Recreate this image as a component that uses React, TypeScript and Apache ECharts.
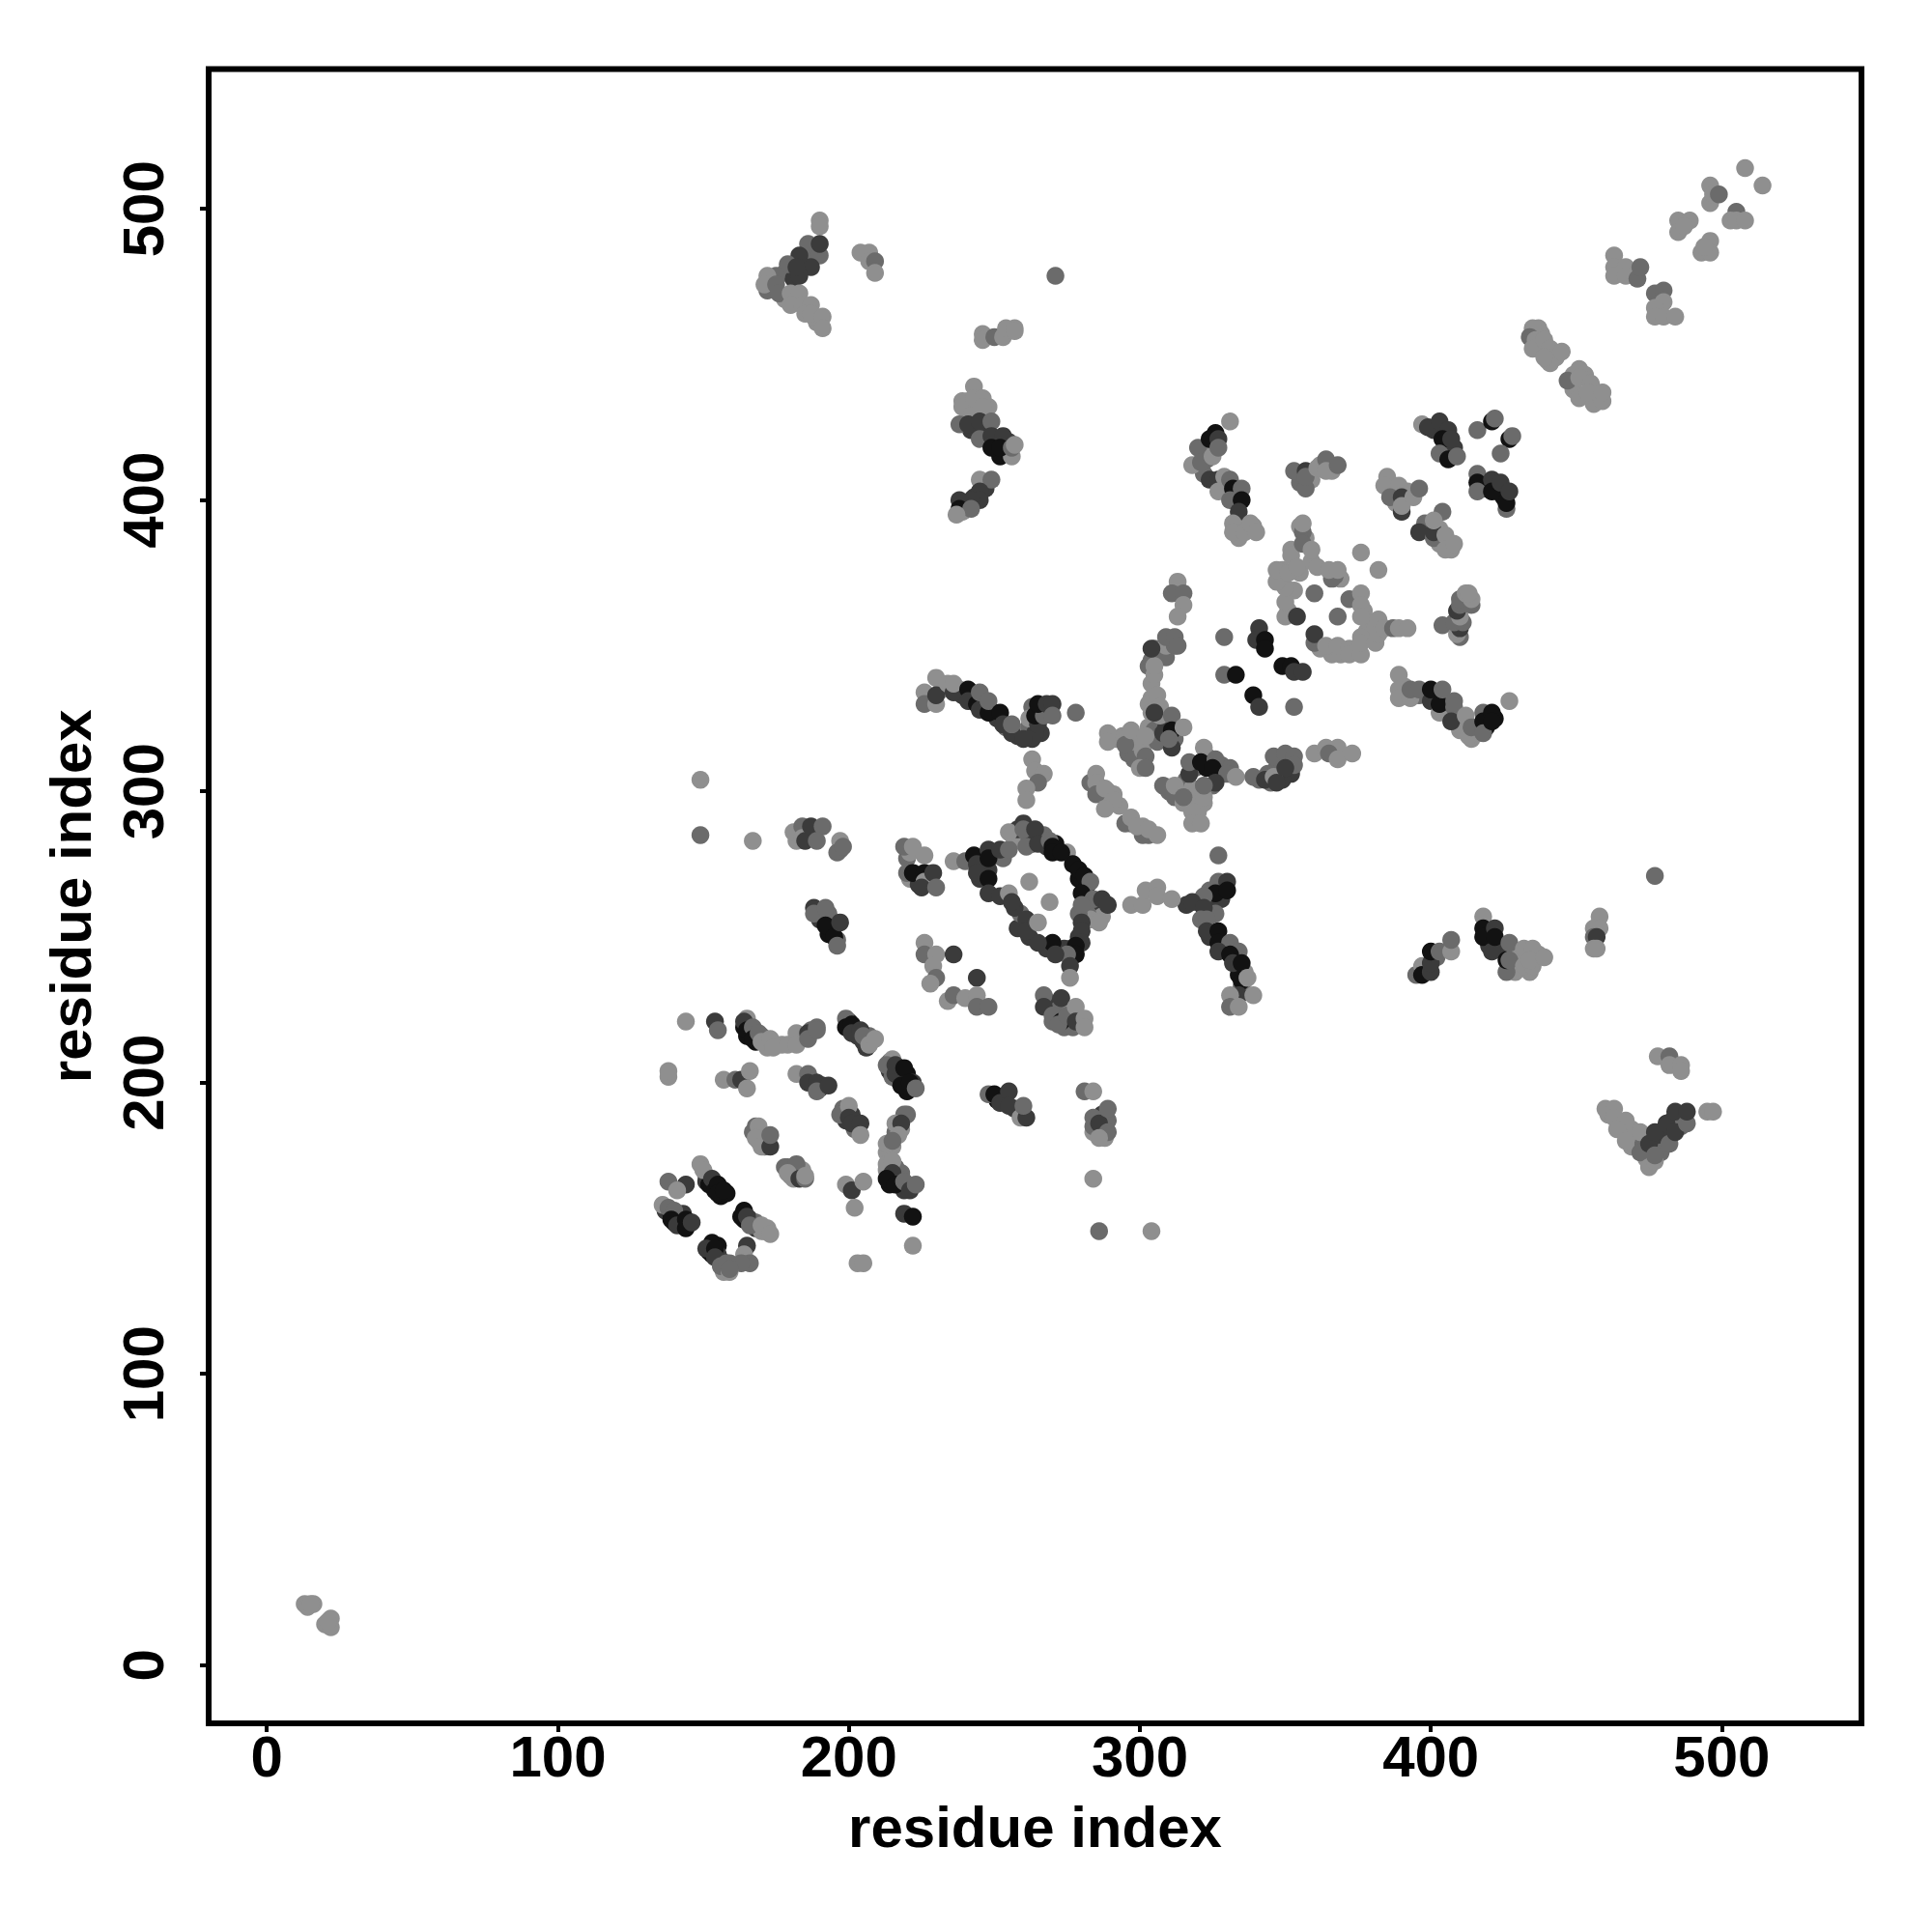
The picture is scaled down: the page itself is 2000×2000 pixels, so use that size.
import React, { useEffect, useRef } from "react";
import * as echarts from "echarts";

// each contact: [residue x, residue y, strength level 0..3]
const axisTicks = [0, 100, 200, 300, 400, 500];
const axisTitle = "residue index";
const levelGreys = ["#8f8f8f", "#6b6b6b", "#3b3b3b", "#121212"];

const denseLower = [
  [137,156,2],[139,155,3],[141,154,3],[142,152,3],[140,152,3],[143,155,2],
  [151,168,1],[151,166,2],[152,165,3],[153,165,3],[156,161,3],[158,162,3],
  [164,153,3],[166,153,2],[168,150,2],[168,152,1],[170,149,0],[172,150,0],
  [152,142,3],[155,144,3],[153,141,3],[155,141,2],[156,139,2],[158,137,1],[157,135,0],[159,138,1],
  [167,183,1],[169,180,0],[171,181,0],[172,180,2],[171,178,1],
  [178,171,1],[180,168,0],[182,169,2],[184,170,0],[181,167,0],
  [200,221,3],[202,218,3],[203,216,2],[205,214,2],[207,216,1],
  [214,207,1],[214,204,2],[217,204,3],[217,201,3],[219,199,3],[220,203,3],[222,200,2],[220,197,3],[215,202,1],
  [198,191,1],[199,190,2],[199,187,2],[201,189,2],[202,184,1],
  [213,170,0],[214,165,3],[217,167,2],[219,163,2],[214,168,2],[218,169,1],[216,171,1],[213,176,0],[219,164,2],
  [218,184,0],[216,183,1],[215,178,0],[220,189,1],
  [164,219,3],[165,216,3],[168,217,2],[168,214,3],[170,216,1],[172,212,0],[175,213,0],[177,213,0],
  [184,216,0],[187,218,1],[187,201,2],[191,199,2],[190,198,2],
  [253,195,2],[251,194,3],[257,191,2],
  [285,184,1],[287,189,2],[288,185,1],[284,183,0],[288,181,0],
];

const denseMiddle = [
  [228,331,0],[232,335,0],[238,335,0],[239,333,2],[243,333,3],[247,329,2],[250,327,3],[251,325,2],[254,322,1],[258,319,2],[261,321,0],[262,322,1],[266,320,2],[264,320,2],[266,328,3],[263,329,1],[268,328,2],
  [292,318,0],[294,319,0],[296,313,1],[299,316,0],[298,311,1],[301,314,0],[303,322,0],[305,321,1],[306,317,1],[307,324,1],[309,322,2],[312,318,1],[304,332,0],[307,326,0],[303,330,0],[306,348,1],[305,346,1],[311,352,1],[304,337,0],[303,343,1],
  [319,308,1],[323,312,1],[323,308,3],[328,309,1],[328,306,2],[331,308,1],[316,304,1],[310,300,1],[312,298,1],[315,296,0],[318,301,0],[322,296,0],[320,293,0],[325,302,1],[317,306,2],
  [341,304,1],[345,303,1],[344,306,1],[347,308,1],[348,310,1],[352,311,1],[349,310,1],[352,306,2],
  [283,303,1],[287,299,0],[289,300,0],[293,295,0],[297,289,1],[301,288,0],[303,285,1],[291,299,0],
  [242,276,2],[246,274,2],[245,270,2],[248,273,2],[250,278,2],[253,277,1],[257,283,0],[258,287,2],[262,284,1],[263,282,2],[267,285,1],[268,281,2],[271,282,3],[275,279,0],
  [277,275,3],[279,270,3],[282,268,3],[281,263,1],[283,260,1],[285,262,2],[286,259,2],[287,257,0],[282,258,1],[283,256,0],[279,258,1],
  [279,250,2],[276,246,1],[274,246,2],[268,246,2],[262,250,2],[258,253,2],[259,258,1],[257,260,2],
  [268,228,2],[270,226,2],[270,221,1],[272,225,1],[274,219,1],[276,224,0],[277,219,1],
  [324,266,1],[328,263,2],[325,263,2],[320,262,3],[316,261,2],[326,258,1],[324,250,2],[329,246,2],[333,243,2],[336,238,0],[334,237,3],[335,233,1],
  [186,284,2],[188,286,1],[182,283,0],[197,280,1],
  [190,256,2],[193,258,1],[194,253,2],[196,249,1],[193,251,3],
  [220,277,1],[221,270,0],[224,268,2],[227,269,2],[221,279,0],
];

const denseUpper = [
  [322,416,1],[326,423,3],[324,417,0],[322,409,1],[323,414,1],[329,405,1],[333,402,2],[334,393,1],[336,391,0],[339,391,0],[334,387,0],
  [241,434,0],[241,431,0],[244,430,0],[242,424,2],[247,424,2],[251,419,2],[255,420,2],[248,432,0],[252,415,3],[256,415,0],
  [240,398,3],[243,401,2],[247,404,2],[239,396,0],
  [178,478,1],[181,476,2],[185,482,2],[188,485,1],[174,475,0],[172,472,1],[182,469,0],[186,465,0],[189,461,0],[188,463,0],[178,469,0],
  [438,457,0],[437,452,0],[443,449,0],[440,448,0],[437,459,0],[449,438,0],[453,443,0],[453,436,0],[457,436,0],[449,443,0],
  [398,238,2],[402,243,1],
  [420,247,2],[424,246,2],[428,240,2],[429,238,0],[430,243,0],[437,244,0],[434,238,0],
  [461,189,0],[465,186,0],[469,184,0],[469,178,0],[473,179,1],[474,174,0],[479,181,2],[481,183,2],[483,187,2],[486,185,1],[475,172,0],[479,176,1],
  [391,336,0],[396,333,1],[402,333,2],[406,327,2],[410,325,1],[410,321,0],[416,320,1],[414,318,0],[419,322,3],[422,325,3],
  [352,383,0],[353,369,0],[349,376,0],[355,375,0],[357,387,0],[355,391,0],[362,349,0],[366,347,0],[369,347,0],[374,349,0],[378,355,0],[379,358,0],[381,356,0],[377,362,0],[369,373,0],[367,374,1],[359,379,0],[351,362,0],
  [387,403,0],[388,399,0],[392,403,0],[403,390,0],[403,385,0],[398,392,1],[407,383,0],
  [355,406,1],[359,407,0],[362,412,0],[366,410,0],
  [401,424,2],[405,418,3],[408,418,2],[418,405,1],[423,403,3],[425,401,3],[419,404,3],
];

const cornerPairs = [[13,21,0],[16,21,0],[14,20,0],[15,21,0],[20,14,0],[22,16,0],[22,13,0],[21,15,0]];

const strandLower = [
  [138,202,0],[138,204,0],[144,221,0],[154,221,2],[155,218,1],
  [165,222,0],[164,221,2],[165,218,3],[167,219,1],[167,215,3],[169,217,1],[170,214,0],[173,215,0],[174,212,0],
  [179,213,0],[182,217,0],[182,213,0],[186,217,2],[186,215,1],[189,219,1],[189,218,1],
  [199,222,1],[199,219,3],[201,220,3],[201,217,2],[204,218,2],[206,212,2],[205,216,1],[207,213,0],[209,215,0],
  [215,208,0],[213,206,1],[218,201,3],[216,203,2],[216,206,2],[219,205,3],[218,199,3],[221,200,3],[223,198,1],
  [157,201,0],[161,201,1],[163,201,2],[166,204,0],[165,198,0],
  [182,203,0],[186,203,1],[186,200,2],[189,200,2],[189,197,1],[193,199,2],
  [197,189,1],[200,192,0],[200,188,2],[201,186,2],[204,186,2],[204,182,0],
  [219,189,1],[216,186,0],[218,186,2],[217,182,0],[213,179,0],[215,180,1],
  [213,172,0],[215,173,0],[215,169,2],[213,167,3],[216,165,3],[219,166,1],[221,163,2],[223,165,1],
  [219,155,2],[222,154,3],[222,144,0],
  [199,165,0],[201,163,2],[205,166,0],[202,157,0],[203,138,0],[205,138,0],
  [168,185,1],[169,185,0],[168,181,0],[170,178,0],[173,178,2],[173,182,1],
  [179,171,1],[182,172,1],[179,169,0],[183,167,2],[185,167,1],[185,168,0],
  [149,172,0],[150,170,0],[153,167,2],[154,163,3],[155,165,3],[155,162,3],[157,163,3],
  [138,166,1],[144,165,2],[141,163,0],[136,158,0],[138,157,1],[140,156,1],[139,153,3],[141,151,2],[144,150,3],[144,153,3],[146,152,2],
  [164,156,3],[163,154,3],[165,154,2],[166,151,1],[171,149,0],[170,151,0],[173,148,0],
  [165,144,2],[164,141,0],[166,138,1],[163,138,1],
  [153,145,3],[151,143,2],[154,143,3],[154,140,2],[156,137,1],[158,138,1],[159,135,0],[159,136,1],
  [248,196,1],[250,196,3],[252,193,2],[255,197,2],[255,192,2],[259,188,0],[261,188,2],[260,192,1],
  [281,197,1],[284,197,0],[284,188,1],[289,187,1],[284,185,1],[286,186,2],[289,191,1],[289,183,1],[286,181,0],
  [284,167,0],[286,149,1],[304,149,0],
];

const chainUpper = [
  [226,334,0],[230,339,0],[226,330,1],[230,330,0],[230,333,2],[234,337,0],[236,334,2],[236,337,0],
  [241,335,3],[241,331,2],[244,330,3],[245,328,2],[245,334,1],[248,327,3],[248,331,1],[252,327,3],[253,323,2],[256,320,2],[256,323,1],[262,325,0],
  [263,318,2],[260,318,2],[265,323,2],[264,326,3],[267,326,1],[265,330,3],[268,330,2],[270,330,2],[270,326,1],
  [278,327,1],[263,311,0],[264,307,0],[267,306,0],[265,303,1],[261,301,0],[261,297,0],
  [285,306,0],[285,303,0],[285,299,1],[288,301,0],[291,297,0],[288,294,0],
  [295,289,1],[297,291,0],[301,285,1],[299,288,0],[303,287,0],[306,285,0],
  [289,320,0],[289,317,0],[295,316,1],[297,321,0],[302,319,0],[304,327,0],[306,333,0],[307,329,0],[302,312,1],[300,308,0],[302,308,1],[305,327,2],[308,320,2],[311,326,1],[311,321,3],[315,322,0],[311,315,2],[310,318,1],
  [305,340,0],[304,345,1],[305,349,1],[309,346,1],[309,350,0],[312,350,1],[305,343,0],
  [313,372,0],[311,368,1],[315,368,1],[315,364,0],[313,360,0],[304,349,2],[309,353,1],[312,353,1],[313,350,1],
  [317,310,1],[322,315,0],[321,310,3],[326,311,1],[325,308,3],[330,306,1],[333,305,0],[326,303,2],
  [308,302,1],[312,302,0],[318,298,0],[322,298,0],[318,293,0],[318,289,0],[321,289,0],[322,302,1],[315,298,1],
  [339,305,1],[343,304,2],[349,304,2],[346,305,0],[346,312,1],[350,313,1],[353,312,1],[353,309,1],[350,308,2],[347,303,2],
  [360,313,0],[364,315,0],[368,315,0],[365,313,1],[368,311,0],[373,313,0],
];

const loopCentre = [
  [236,276,0],[240,276,1],[243,278,3],[244,275,2],[244,272,2],[248,270,3],[248,280,2],[248,277,3],[252,280,2],[255,280,1],[255,286,0],
  [260,289,2],[260,287,1],[264,287,2],[261,281,1],[265,282,2],[269,283,1],[270,281,3],[270,279,3],[273,279,3],
  [279,273,3],[281,271,3],[283,269,1],[280,265,3],[284,263,1],[280,261,1],[287,263,2],[289,261,2],[286,255,0],
  [280,255,2],[280,252,2],[280,248,2],[278,247,3],[278,244,3],[275,244,1],[276,240,2],[276,236,0],
  [270,248,3],[271,244,2],[265,248,2],[261,256,2],[261,252,2],[265,255,0],[248,265,2],[252,264,2],[255,265,0],[256,262,2],
  [262,269,0],[269,262,0],
  [297,261,0],[301,261,0],[302,266,0],[306,267,0],[306,264,0],[311,263,0],
  [327,278,1],[327,269,1],[330,269,2],[326,265,3],[330,266,3],[322,264,1],[318,262,2],[322,260,2],[321,256,1],[323,256,1],[323,252,2],
  [327,252,3],[327,248,3],[331,248,1],[327,245,2],[334,245,1],[331,244,3],[332,241,2],[335,241,3],[335,235,3],[337,236,0],[334,230,2],[339,230,0],[331,230,0],[331,226,1],[334,226,0],
  [219,281,1],[222,281,0],[226,278,0],[220,272,1],[222,272,3],[226,272,3],[226,269,0],[229,272,2],[225,267,2],[230,267,1],
  [226,248,0],[226,244,1],[230,244,0],[229,240,0],[230,236,1],[228,234,0],[236,244,2],[244,236,2],
  [234,228,0],[236,230,1],[240,229,0],[244,230,0],[244,226,1],[248,226,1],
  [267,230,1],[267,226,2],[273,229,2],[270,223,1],[273,221,3],[272,220,1],[275,223,1],[278,226,0],[278,221,2],[281,222,0],[281,219,0],
];

const hairpinLeft = [
  [149,304,0],[149,285,1],[167,283,0],
  [181,286,0],[184,288,1],[184,284,0],[185,283,2],[187,288,2],[191,288,1],[189,283,1],
  [197,283,0],[196,279,1],[198,281,1],
  [188,260,2],[188,258,1],[192,260,1],[192,254,3],[195,250,3],[196,247,1],[197,255,2],
];

const upperBlocks = [
  [318,412,0],[320,418,1],[321,413,1],[325,415,0],[324,421,3],[327,421,2],[327,418,1],[324,407,2],[327,407,2],[329,408,0],[327,403,0],
  [331,427,0],[331,407,1],[332,404,3],[335,404,1],[331,400,1],[335,400,3],[334,396,2],[332,392,0],[332,389,0],[336,389,0],[338,392,0],[340,389,0],
  [357,404,1],[353,410,1],[357,410,2],[357,408,1],[361,411,0],[364,414,1],[364,410,0],[368,412,1],
  [397,426,0],[399,425,2],[403,427,2],[406,424,2],[404,421,3],[407,421,2],[403,416,1],[406,414,3],[409,415,1],
  [416,424,1],[421,427,3],[422,428,1],[427,421,3],[428,422,1],[424,416,1],
  [416,409,1],[416,406,3],[416,403,1],[421,407,2],[421,403,3],[424,406,2],[426,397,1],[426,399,3],[427,403,2],
  [385,408,0],[384,405,0],[389,405,0],[386,401,1],[390,401,2],[390,396,2],[390,398,0],[394,401,0],[396,404,1],
  [404,396,1],[396,389,2],[401,387,1],[401,389,2],[401,393,0],[405,388,0],[405,383,0],[408,385,0],
];

const starCentre = [
  [341,356,2],[340,352,2],[343,352,3],[343,349,3],[329,353,1],
  [329,340,1],[333,340,3],[339,333,3],[341,329,2],[353,329,1],
  [349,343,3],[352,343,3],[353,341,2],[356,341,2],
  [350,360,0],[350,365,0],[350,370,0],[347,372,0],[347,376,0],[351,375,0],[352,381,0],[354,377,0],[356,389,1],[356,385,1],[356,392,0],[359,383,0],[361,377,0],
  [354,360,2],[360,368,1],[368,360,1],
  [366,373,1],[365,376,0],[368,376,0],[376,382,0],[382,376,0],
  [360,351,1],[360,354,2],[364,350,0],[368,350,0],[372,349,0],[372,347,0],[376,347,0],[376,353,0],[376,351,0],[381,351,0],
  [372,366,1],[376,368,0],[376,364,0],[376,360,0],[382,359,0],[382,354,0],[384,356,0],[387,356,1],[389,356,0],[392,356,0],
];

const rightEdge = [
  [389,340,0],[389,335,0],[389,332,0],[393,332,0],[393,335,1],[396,335,1],[400,331,2],[400,335,3],[403,327,0],[403,330,3],[404,335,1],[408,331,1],[408,329,1],[407,324,2],
  [412,326,0],[413,319,0],[414,322,1],[418,327,1],[418,324,3],[418,320,1],[421,327,3],[421,324,3],[427,331,0],
  [404,357,1],[410,353,1],[409,354,0],[410,356,2],[408,358,1],[411,358,1],[410,360,0],[409,362,2],[410,364,1],[414,364,1],[410,366,1],[414,366,0],[412,368,0],[413,368,0],
];

const sideClusters = [
  [477,271,1],
  [395,237,1],[397,240,0],[397,237,3],[400,238,2],[400,241,2],[400,245,3],[403,245,1],[407,245,0],[407,249,1],
  [418,257,0],[418,253,3],[418,250,3],[421,245,2],[422,253,2],[422,250,3],
  [426,238,1],[426,242,3],[427,248,1],[427,242,1],[432,246,0],[435,246,0],[432,240,0],[435,240,0],[434,242,0],[439,243,0],
  [458,257,0],[456,253,0],[458,253,0],[456,250,1],[457,250,2],[456,246,0],[457,246,0],
  [478,209,0],[482,209,1],[482,206,0],[486,206,0],[486,204,0],
  [460,191,0],[463,191,0],[463,188,0],[467,187,0],[464,184,0],[467,180,0],[472,183,0],[472,176,1],[475,171,0],[477,173,0],
  [475,179,2],[477,175,1],[477,183,2],[481,186,2],[482,179,1],[484,183,2],[484,190,2],[488,186,1],[488,190,2],[495,190,0],[497,190,0],
];

const topLeftGroup = [
  [190,496,0],[190,494,0],[186,488,1],[190,484,1],[190,488,2],[187,480,2],[183,484,2],[179,481,1],[183,477,2],[182,480,2],
  [175,477,1],[172,477,0],[171,474,0],[175,474,1],[176,471,1],[180,471,0],[183,471,0],[180,467,0],[184,467,0],[187,467,0],[185,464,0],[187,464,0],[191,463,0],[191,459,0],
  [204,485,0],[207,485,0],[207,482,0],[209,482,1],[209,478,0],[271,477,1],
  [246,457,0],[246,455,0],[250,456,1],[253,456,0],[254,459,0],[257,459,0],[257,458,0],
  [243,439,0],[239,434,0],[239,432,0],[243,435,0],[246,435,0],[246,432,0],[242,429,0],
  [238,426,1],[241,426,2],[245,427,2],[249,427,1],[245,421,1],[249,422,2],[253,422,2],[249,418,3],[252,418,3],[256,418,1],[257,419,0],
  [245,407,0],[249,407,1],[245,403,2],[245,400,2],[242,400,2],[238,400,2],[238,397,3],[242,397,1],[237,395,0],
];

const diagonalTail = [
  [508,514,0],[514,508,0],[496,508,0],[496,502,0],[497,505,0],[499,505,1],
  [505,499,1],[503,496,0],[505,496,0],[508,496,0],
  [485,496,0],[489,496,0],[485,492,0],[487,494,0],
  [496,489,0],[493,485,0],[496,485,0],[494,487,0],
  [463,484,0],[463,480,0],[463,477,0],[467,480,0],[467,477,0],[471,476,1],[472,480,1],
  [477,471,1],[480,472,1],[480,468,0],[477,466,0],[477,463,0],[480,463,0],[484,463,0],
  [435,459,0],[434,456,1],[436,455,0],[435,452,0],[439,455,0],[441,452,0],[441,447,0],[445,451,0],[439,449,0],
  [451,445,0],[447,441,1],[451,442,0],[455,440,0],[451,435,0],[456,433,0],[454,437,0],[459,434,0],[459,437,0],
];

const contacts = [
  ...denseLower, ...denseMiddle, ...denseUpper,
  ...cornerPairs, ...strandLower, ...chainUpper, ...loopCentre, ...hairpinLeft,
  ...upperBlocks, ...starCentre, ...rightEdge, ...sideClusters, ...topLeftGroup, ...diagonalTail,
];

const axisMin = -20;
const axisMax = 548;

function makeAxis(rotated: boolean) {
  return {
    type: "value",
    min: axisMin,
    max: axisMax,
    name: axisTitle,
    nameLocation: "middle",
    nameGap: rotated ? 113 : 77,
    nameRotate: rotated ? 90 : 0,
    nameTextStyle: { fontFamily: "Liberation Sans", fontWeight: "bold", fontSize: 60, color: "#000" },
    splitLine: { show: false },
    axisLine: { show: false, onZero: false },
    axisTick: { show: true, length: 9, customValues: axisTicks, lineStyle: { color: "#000", width: 4 } },
    axisLabel: {
      show: true,
      customValues: axisTicks,
      rotate: rotated ? 90 : 0,
      margin: rotated ? 38 : 4,
      fontFamily: "Liberation Sans",
      fontWeight: "bold",
      fontSize: 60,
      color: "#000",
      showMinLabel: true,
      showMaxLabel: true,
    },
  };
}

export default function App() {
  const ref = useRef<HTMLDivElement>(null);
  useEffect(() => {
    document.body.style.margin = "0";
    const chart = echarts.init(ref.current!, null, { renderer: "svg" });
    chart.setOption({
      animation: false,
      backgroundColor: "#fff",
      grid: {
        show: true,
        left: 216,
        top: 71.5,
        width: 1711,
        height: 1712.5,
        borderColor: "#000",
        borderWidth: 6,
        backgroundColor: "transparent",
      },
      xAxis: makeAxis(false),
      yAxis: makeAxis(true),
      series: [
        {
          type: "scatter",
          data: contacts,
          symbol: "circle",
          symbolSize: 18.5,
          silent: true,
          encode: { x: 0, y: 1 },
          itemStyle: { color: (p: any) => levelGreys[p.data[2]], opacity: 1 },
        },
      ],
    });
    return () => chart.dispose();
  }, []);
  return <div ref={ref} style={{ width: 2000, height: 2000, position: "absolute", left: 0, top: 0 }} />;
}
